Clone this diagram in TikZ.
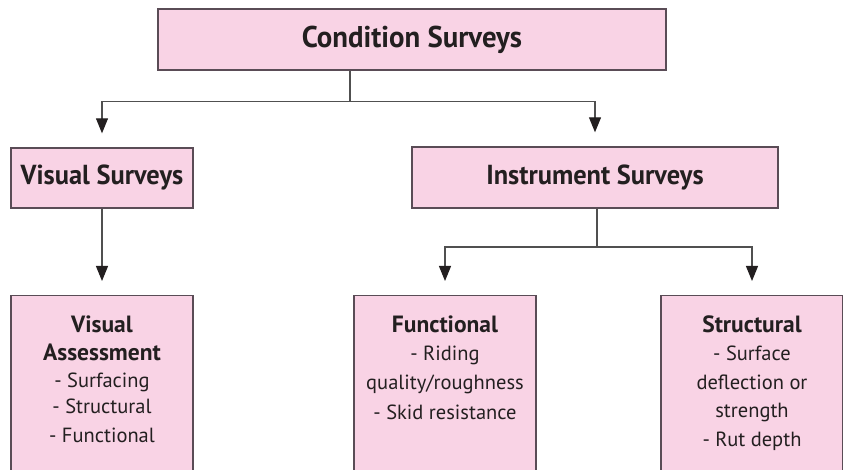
\documentclass[tikz,border=0pt]{standalone}
\usepackage{fontspec}
\setmainfont{PT Sans}
\newfontfamily\condbold[FakeStretch=0.96]{PT Sans Bold}
\usetikzlibrary{arrows.meta}
\definecolor{boxfill}{HTML}{F9D3E5}
\definecolor{boxline}{HTML}{5A4C56}
\definecolor{linecol}{HTML}{505050}
\definecolor{txt}{HTML}{231F20}
\newcommand{\hd}[1]{{\bfseries\fontsize{23.5}{27.5}\selectfont #1}}
\tikzset{
  pinkbox/.style={draw=boxline, line width=1.4pt, fill=boxfill, rectangle, inner sep=0pt},
  headtxt/.style={text=txt, font=\condbold\fontsize{27.5}{32}\selectfont},
  toptxtstyle/.style={text=txt, font=\condbold\fontsize{30}{34}\selectfont},
  bodytxt/.style={text=txt, align=center, inner sep=0pt, anchor=north,
    font=\fontsize{20.5}{27.5}\selectfont},
  conn/.style={draw=linecol, line width=1.1pt},
  arr/.style={conn, -{Triangle[width=12pt,length=15pt,color=txt]}, shorten >=14pt},
}
\begin{document}
\begin{tikzpicture}[x=1pt,y=-1pt]
\useasboundingbox (0,0) rectangle (843,470);
\clip (0,0) rectangle (843,470);
% top level
\node[pinkbox, minimum width=508pt, minimum height=61pt] (top) at (412,39.5) {};
\node[toptxtstyle] (toptxt) at (top) {Condition Surveys};
% second level
\node[pinkbox, minimum width=182pt, minimum height=60pt] (vis) at (102,178) {};
\node[headtxt] (vistxt) at (vis) {Visual Surveys};
\node[pinkbox, minimum width=366pt, minimum height=61pt] (ins) at (595,177.5) {};
\node[headtxt] (instxt) at (ins) {Instrument Surveys};
% third level
\node[pinkbox, minimum width=182pt, minimum height=220pt, anchor=north] (va) at (102,295) {};
\node[bodytxt] (vatxt) at ([yshift=-21pt]va.north) {\hd{Visual}\\\hd{Assessment}\\- Surfacing\\[-2pt]- Structural\\[2pt]- Functional};
\node[pinkbox, minimum width=182pt, minimum height=220pt, anchor=north] (fun) at (445,295) {};
\node[bodytxt] (funtxt) at ([yshift=-21pt]fun.north) {\hd{Functional}\\- Riding\\[2pt]quality/roughness\\[2pt]- Skid resistance};
\node[pinkbox, minimum width=182pt, minimum height=220pt, anchor=north] (str) at (752,295) {};
\node[bodytxt] (strtxt) at ([yshift=-21pt]str.north) {\hd{Structural}\\- Surface\\[2pt]deflection or\\strength\\[2pt]- Rut depth};
% connectors
\coordinate (j1) at (350,101.5);
\coordinate (j2) at (597,247);
\draw[conn] (top.south -| j1) -- (j1);
\draw[arr] (j1) -| (vis.north);
\draw[arr] (j1) -| (ins.north);
\draw[arr] (vis.south) -- (va.north);
\draw[conn] (ins.south -| j2) -- (j2);
\draw[arr] (j2) -| (fun.north);
\draw[arr] (j2) -| (str.north);
\end{tikzpicture}
\end{document}
